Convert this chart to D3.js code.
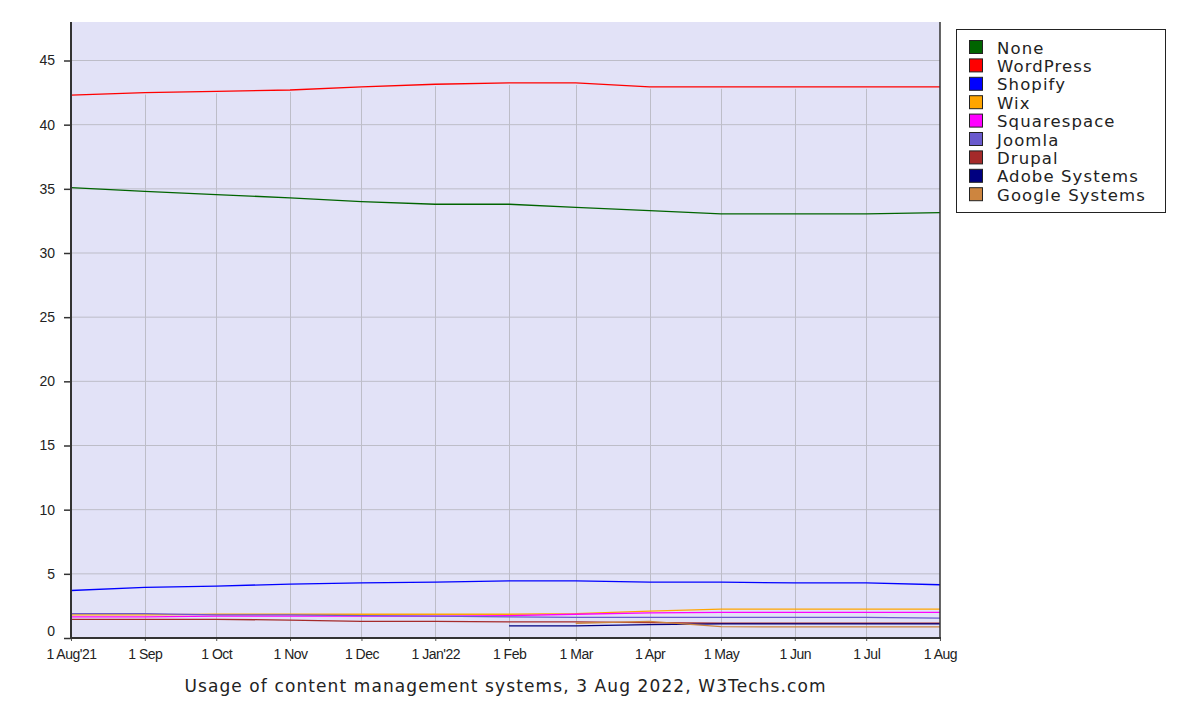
<!DOCTYPE html>
<html><head><meta charset="utf-8">
<script src="https://cdn.jsdelivr.net/npm/d3@7"></script>
<style>body{margin:0;background:#fff}svg{display:block}</style>
</head><body>
<svg id="c" width="1200" height="702"></svg>
<script>
const months = ["2021-08-01","2021-09-01","2021-10-01","2021-11-01","2021-12-01","2022-01-01","2022-02-01","2022-03-01","2022-04-01","2022-05-01","2022-06-01","2022-07-01","2022-08-01"];
const tickLabels = ["1 Aug'21","1 Sep","1 Oct","1 Nov","1 Dec","1 Jan'22","1 Feb","1 Mar","1 Apr","1 May","1 Jun","1 Jul","1 Aug"];
const yTicks = [0,5,10,15,20,25,30,35,40,45];
const seriesNames = ["None","WordPress","Shopify","Wix","Squarespace","Joomla","Drupal","Adobe Systems","Google Systems"];
const seriesColors = ["#006400","#ff0000","#0000ff","#ffa500","#ff00ff","#6a5acd","#a52a2a","#000080","#cd853f"];
const none        = [35.1,34.8,34.55,34.3,34.0,33.8,33.8,33.55,33.3,33.05,33.05,33.05,33.15];
const wordpress   = [42.3,42.5,42.6,42.7,42.95,43.15,43.25,43.25,42.95,42.95,42.95,42.95,42.95];
const shopify     = [3.7,3.95,4.05,4.2,4.3,4.35,4.45,4.45,4.35,4.35,4.3,4.3,4.15];
const wix         = [1.8,1.8,1.85,1.85,1.85,1.85,1.85,1.9,2.1,2.25,2.25,2.25,2.25];
const squarespace = [1.65,1.65,1.7,1.7,1.7,1.7,1.75,1.85,1.95,2.0,2.0,2.0,2.0];
const joomla      = [1.9,1.9,1.8,1.8,1.75,1.7,1.65,1.6,1.6,1.6,1.6,1.6,1.55];
const drupal      = [1.45,1.45,1.45,1.4,1.3,1.3,1.25,1.25,1.2,1.15,1.15,1.15,1.15];
const adobe       = [null,null,null,null,null,null,0.95,0.95,1.05,1.1,1.1,1.1,1.1];
const google      = [null,null,null,null,null,null,null,1.15,1.3,0.88,0.87,0.87,0.87];
const seriesValues = [none,wordpress,shopify,wix,squarespace,joomla,drupal,adobe,google];

const svg = d3.select("#c");
const L=71,R=940,T=22,B=638;
const parse = d3.timeParse("%Y-%m-%d");
const dates = months.map(parse);
const x = d3.scaleTime().domain([dates[0],dates[dates.length-1]]).range([L,R]);
const y = d3.scaleLinear().domain([0,48]).range([B,T]);

svg.append("rect").attr("x",L).attr("y",T).attr("width",R-L).attr("height",B-T).attr("fill","#e2e2f7");

svg.append("g").selectAll("line").data(yTicks.filter(d=>d>0)).join("line")
  .attr("x1",L).attr("x2",R).attr("y1",d=>y(d)).attr("y2",d=>y(d))
  .attr("stroke","#bdbdc8").attr("stroke-width",1);
const maxAt = dates.map((d,i)=>d3.max(seriesValues,s=>s[i]));
svg.append("g").selectAll("line").data(dates.slice(1,-1)).join("line")
  .attr("x1",d=>Math.round(x(d))+0.5).attr("x2",d=>Math.round(x(d))+0.5)
  .attr("y1",B).attr("y2",(d,i)=>y(maxAt[i+1])+2)
  .attr("stroke","#bdbdc8").attr("stroke-width",1);

const line = d3.line().defined(d=>d.v!=null).x(d=>x(d.d)).y(d=>y(d.v));
seriesValues.forEach((s,k)=>{
  svg.append("path").datum(s.map((v,i)=>({d:dates[i],v})))
    .attr("d",line).attr("fill","none").attr("stroke",seriesColors[k]).attr("stroke-width",1.3);
});

const yAxis = d3.axisLeft(y).tickValues(yTicks).tickSize(7).tickPadding(9).tickFormat(d3.format("d"));
const gy = svg.append("g").attr("transform",`translate(${L},0)`).call(yAxis);
gy.select(".domain").remove();
gy.selectAll("line").attr("stroke","#333").attr("stroke-width",1.5);
gy.selectAll("text").attr("font-family","Liberation Sans, Arial, sans-serif").attr("font-size",14).attr("fill","#222");
gy.selectAll(".tick").filter(d=>d===0).select("text").attr("dy","-0.15em");

const xAxis = d3.axisBottom(x).tickValues(dates).tickSize(3).tickPadding(8).tickFormat((d,i)=>tickLabels[i]);
const gx = svg.append("g").attr("transform",`translate(0,${B})`).call(xAxis);
gx.select(".domain").remove();
gx.selectAll("line").attr("stroke","#555");
gx.selectAll("text").attr("font-family","Liberation Sans, Arial, sans-serif").attr("font-size",14).attr("letter-spacing","-0.5px").attr("fill","#222");

svg.append("line").attr("x1",L).attr("x2",L).attr("y1",T).attr("y2",B+1).attr("stroke","#333").attr("stroke-width",2);
svg.append("line").attr("x1",L-1).attr("x2",R+1).attr("y1",B).attr("y2",B).attr("stroke","#333").attr("stroke-width",2);
svg.append("line").attr("x1",R).attr("x2",R).attr("y1",T).attr("y2",B).attr("stroke","#333").attr("stroke-width",1.5);

svg.append("text").attr("x",(L+R)/2).attr("y",692).attr("text-anchor","middle")
  .attr("font-family","DejaVu Sans, Verdana, sans-serif").attr("font-size",17).attr("letter-spacing","1.1px").attr("fill","#222")
  .text("Usage of content management systems, 3 Aug 2022, W3Techs.com");

const lg = svg.append("g");
lg.append("rect").attr("x",956.5).attr("y",29.5).attr("width",209).attr("height",183).attr("fill","#fff").attr("stroke","#222");
const items = lg.selectAll("g").data(seriesNames).join("g").attr("transform",(d,i)=>`translate(0,${48+i*18.4})`);
items.append("rect").attr("x",969.5).attr("y",-7.5).attr("width",13).attr("height",13)
  .attr("fill",(d,i)=>seriesColors[i]).attr("stroke","#222");
items.append("text").attr("x",997).attr("y",5.5).attr("font-family","DejaVu Sans, Verdana, sans-serif")
  .attr("font-size",16.5).attr("letter-spacing","1.1px").attr("fill","#222").text(d=>d);
</script>
</body></html>
